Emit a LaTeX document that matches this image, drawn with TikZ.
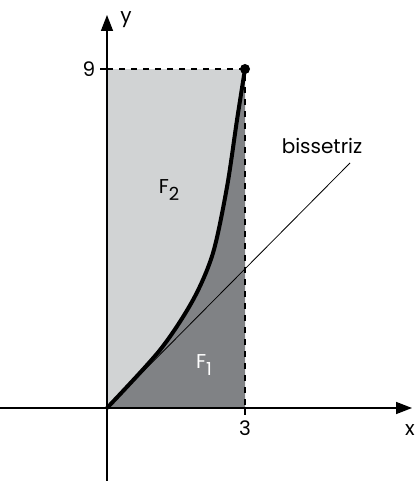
\documentclass[tikz,border=0pt]{standalone}
\usepackage{fontspec}
\setmainfont{Poppins}
\usetikzlibrary{arrows.meta,positioning}
\definecolor{lightgray}{HTML}{D1D3D4}
\definecolor{darkgray}{HTML}{808285}
\newcommand{\sbs}[1]{\raisebox{-0.6ex}{\small #1}}
\tikzset{
  axis/.style={thick, -{Triangle[length=8pt,width=6pt]}},
  lbl/.style={font=\normalsize, inner sep=1pt},
}

\begin{document}
\begin{tikzpicture}[x=0.5pt,y=0.5pt]
  \useasboundingbox (-107,-73) rectangle (310,408);
  \coordinate (O) at (0,0);
  \coordinate (P) at (138,339);
  \fill[lightgray] (O) rectangle (P);
  \fill[darkgray] plot[smooth] coordinates {(0,0) (53,58) (86,108) (106,155) (120,221) (130,288) (138,339)} -- (138,0) -- cycle;
  \draw[dashed, thick] (0,339) -- (P) -- (138,0);
  \draw[line width=2pt] plot[smooth] coordinates {(0,0) (53,58) (86,108) (106,155) (120,221) (130,288) (138,339)};
  \fill (P) circle (5);
  \coordinate (B) at (243,245);
  \draw (O) -- (B);
  \draw[axis] (-107,0) -- (305,0);
  \draw[axis] (0,-73) -- (0,393);
  \draw[thick] (-7,339) -- (0,339);
  \draw[thick] (138,0) -- (138,-7);
  \node[lbl] (nine) at (-18,339) {9};
  \node[lbl] (three) at (138,-20) {3};
  \node[lbl] (xlab) at (303,-22) {x};
  \node[lbl] (ylab) at (19,388) {y};
  \node[lbl] (biss) at (215,262) {bissetriz};
  \node[lbl] (Ftwo) at (62,218) {F\sbs{2}};
  \node[lbl, white] (Fone) at (97,43) {F\sbs{1}};
\end{tikzpicture}
\end{document}
